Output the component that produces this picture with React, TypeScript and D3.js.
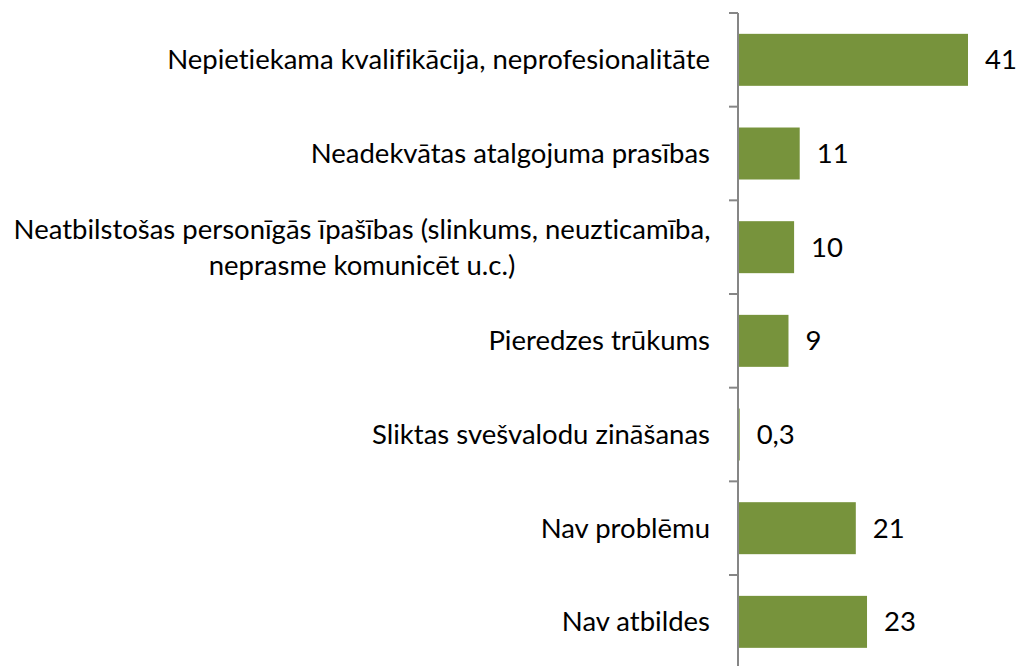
import React from "react";
import * as d3 from "d3";

const categories: string[][] = [
  ["Nepietiekama kvalifikācija, neprofesionalitāte"],
  ["Neadekvātas atalgojuma prasības"],
  ["Neatbilstošas personīgās īpašības (slinkums, neuzticamība,", "neprasme komunicēt u.c.)"],
  ["Pieredzes trūkums"],
  ["Sliktas svešvalodu zināšanas"],
  ["Nav problēmu"],
  ["Nav atbildes"],
];
const values: number[] = [41, 11, 10, 9, 0.3, 21, 23];

const W = 1016;
const H = 666;
const AXIS_X = 738;
const TOP = 13;
const STEP = 93.67;
const FONT = "Lato, 'Open Sans', sans-serif";
const FS = 27.5;
const BAR = "#77933C";

export default function App() {
  const idx = categories.map((_, i) => String(i));
  const y = d3
    .scaleBand<string>()
    .domain(idx)
    .range([TOP, TOP + STEP * categories.length])
    .paddingInner(0.445)
    .paddingOuter(0.2225);
  const x = d3.scaleLinear().domain([0, 41]).range([AXIS_X, 968]);
  const fmt = (v: number) => String(v).replace(".", ",");
  const ticks = d3.range(categories.length + 1).map((i) => TOP + i * y.step());
  const capHalf = 9.6;
  const lineGap = 36;

  return (
    <svg
      width={W}
      height={H}
      style={{ position: "absolute", left: 0, top: 0, background: "#fff", fontVariantLigatures: "none" }}
      fontFamily={FONT}
    >
      {values.map((v, i) => {
        const yy = y(String(i))!;
        return (
          <rect key={"b" + i} x={x(0)} y={yy} width={x(v) - x(0)} height={y.bandwidth()} fill={BAR} />
        );
      })}
      {values.map((v, i) => {
        const cy = y(String(i))! + y.bandwidth() / 2;
        return (
          <text key={"v" + i} x={x(v) + 17} y={cy + capHalf} fontSize={FS} fill="#000">
            {fmt(v)}
          </text>
        );
      })}
      {categories.map((lines, i) => {
        const cy = y(String(i))! + y.bandwidth() / 2;
        if (lines.length === 1) {
          return (
            <text key={"c" + i} x={710} y={cy + capHalf} fontSize={FS} textAnchor="end" fill="#000">
              {lines[0]}
            </text>
          );
        }
        return (
          <text key={"c" + i} x={362} fontSize={FS} textAnchor="middle" fill="#000">
            {lines.map((l, j) => (
              <tspan key={j} x={362} y={cy + capHalf + (j - (lines.length - 1) / 2) * lineGap}>
                {l}
              </tspan>
            ))}
          </text>
        );
      })}
      <line x1={AXIS_X} x2={AXIS_X} y1={TOP} y2={H} stroke="#868686" strokeWidth={2} />
      {ticks.map((t, i) => (
        <line key={"t" + i} x1={AXIS_X - 9} x2={AXIS_X} y1={t} y2={t} stroke="#868686" strokeWidth={2} />
      ))}
    </svg>
  );
}
